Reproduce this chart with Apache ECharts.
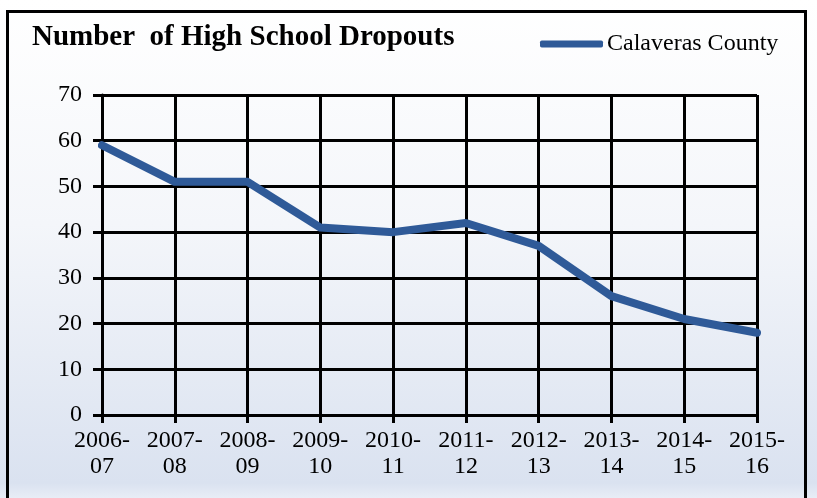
<!DOCTYPE html>
<html>
<head>
<meta charset="utf-8">
<script src="https://cdn.jsdelivr.net/npm/echarts@6/dist/echarts.min.js"></script>
<style>
  html, body { margin: 0; padding: 0; background: #ffffff; }
  #chart { width: 817px; height: 498px; }
</style>
</head>
<body>
<div id="chart"></div>
<script>
// School years on the x axis
const schoolYears = ['2006-\n07', '2007-\n08', '2008-\n09', '2009-\n10', '2010-\n11',
                     '2011-\n12', '2012-\n13', '2013-\n14', '2014-\n15', '2015-\n16'];
// Dropout counts, Calaveras County
const calaverasDropouts = [59, 51, 51, 41, 40, 42, 37, 26, 21, 18];
// Value axis range
const yMin = 0, yMax = 70, yStep = 10;

const serif = '"Liberation Serif", "DejaVu Serif", serif';
const chart = echarts.init(document.getElementById('chart'), null, { renderer: 'canvas' });

chart.setOption({
  animation: false,
  backgroundColor: {
    type: 'linear', x: 0, y: 0, x2: 0, y2: 1,
    colorStops: [
      { offset: 0, color: '#ffffff' },
      { offset: 0.45, color: '#f4f6fa' },
      { offset: 0.97, color: '#dae2f0' },
      { offset: 1, color: '#e8edf6' }
    ]
  },
  graphic: [{
    type: 'rect',
    shape: { x: 7.5, y: 11.5, width: 798, height: 500 },
    style: { fill: 'none', stroke: '#000000', lineWidth: 3 },
    z: 100
  }],
  title: {
    text: 'Number  of High School Dropouts',
    left: 32, top: 23, padding: 0,
    textStyle: { fontFamily: serif, fontWeight: 'bold', fontSize: 29, color: '#000000' }
  },
  legend: {
    left: 540, top: 32, padding: 0,
    itemWidth: 63, itemHeight: 7,
    icon: 'roundRect',
    textStyle: { fontFamily: serif, fontSize: 24, color: '#000000', padding: [0, 0, 0, -1] },
    data: [{ name: 'Calaveras County', itemStyle: { color: '#2f5a98' } }]
  },
  grid: { left: 102, right: 60, top: 95, bottom: 83, containLabel: false },
  xAxis: {
    type: 'category',
    data: schoolYears,
    boundaryGap: false,
    axisLine: { show: true, lineStyle: { color: '#000000', width: 3 } },
    axisTick: { show: true, length: 8, lineStyle: { color: '#000000', width: 3 } },
    splitLine: { show: true, lineStyle: { color: '#000000', width: 3 } },
    axisLabel: { fontFamily: serif, fontSize: 24, color: '#000000', lineHeight: 26, margin: 13, interval: 0 }
  },
  yAxis: {
    type: 'value',
    min: yMin, max: yMax, interval: yStep,
    axisLine: { show: true, lineStyle: { color: '#000000', width: 3 } },
    axisTick: { show: true, length: 9, lineStyle: { color: '#000000', width: 3 } },
    splitLine: { show: true, lineStyle: { color: '#000000', width: 3 } },
    axisLabel: { fontFamily: serif, fontSize: 24, color: '#000000', margin: 20 }
  },
  series: [{
    name: 'Calaveras County',
    type: 'line',
    data: calaverasDropouts,
    showSymbol: false,
    symbol: 'none',
    lineStyle: { color: '#2f5a98', width: 8, cap: 'round', join: 'round' },
    itemStyle: { color: '#2f5a98' },
    z: 10
  }]
});
</script>
</body>
</html>
